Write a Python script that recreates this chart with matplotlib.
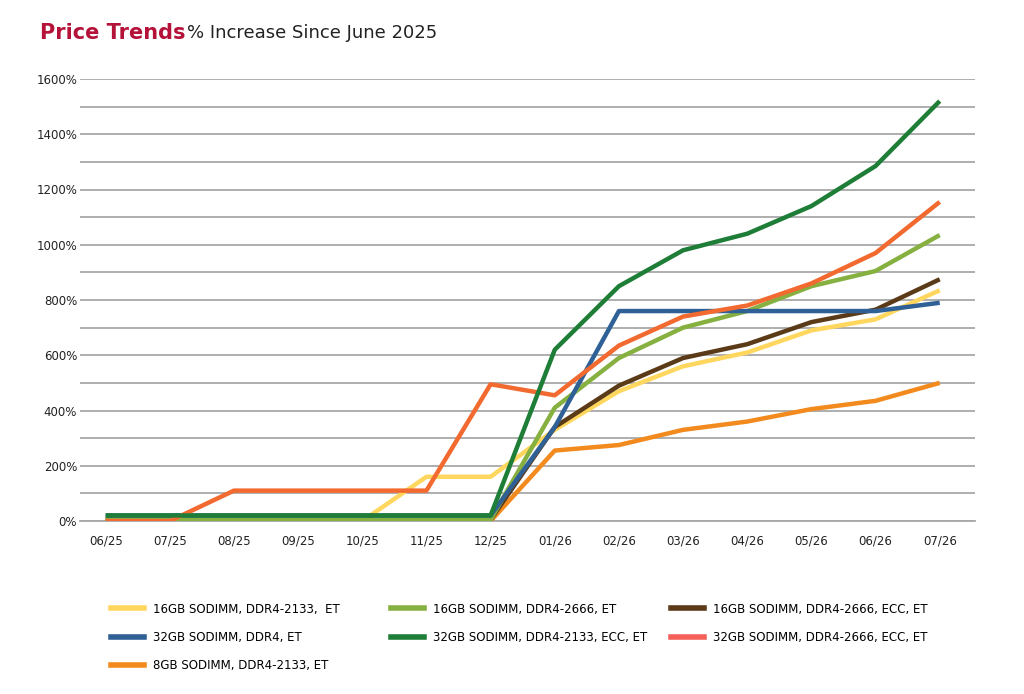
import matplotlib
matplotlib.use("Agg")
import matplotlib.pyplot as plt

months = ["06/25","07/25","08/25","09/25","10/25","11/25","12/25","01/26","02/26","03/26","04/26","05/26","06/26","07/26"]
s16_2133 = [0,0,0,0,0,160,160,330,470,560,610,690,730,835]
s16_2666 = [5,5,5,5,5,5,5,410,590,700,760,850,905,1035]
s16_2666ecc = [5,5,5,5,5,5,5,340,490,590,640,720,765,875]
s32_ddr4 = [20,20,20,20,20,20,20,340,760,760,760,760,760,790]
s32_2133ecc = [20,20,20,20,20,20,20,620,850,980,1040,1140,1285,1520]
s32_2666ecc = [0,0,110,110,110,110,495,455,635,740,780,860,970,1155]
s8_2133 = [0,0,0,0,0,0,0,255,275,330,360,405,435,500]

series = [
    ("16GB SODIMM, DDR4-2133,  ET", s16_2133, "#FFD75E", "#FFD75E", 4, 0),
    ("32GB SODIMM, DDR4, ET", s32_ddr4, "#2F6096", "#2F6096", 7, 0),
    ("8GB SODIMM, DDR4-2133, ET", s8_2133, "#F28A1E", "#F28A1E", 3, 0),
    ("16GB SODIMM, DDR4-2666, ET", s16_2666, "#86B040", "#86B040", 6, 1),
    ("32GB SODIMM, DDR4-2133, ECC, ET", s32_2133ecc, "#1E7D36", "#1E7D36", 9, 1),
    ("16GB SODIMM, DDR4-2666, ECC, ET", s16_2666ecc, "#5B3A18", "#5B3A18", 5, 2),
    ("32GB SODIMM, DDR4-2666, ECC, ET", s32_2666ecc, "#F26A30", "#F4605A", 8, 2),
]

fig = plt.figure(figsize=(10.24,6.94), dpi=100)
ax = fig.add_axes([80/1024, 1-521/694, 895/1024, (521-79)/694])
x = list(range(len(months)))
cols = [[], [], []]
for name, vals, c, lc, z, col in series:
    ax.plot(x, vals, color=c, lw=3.2, zorder=z, solid_capstyle="butt")
    h, = ax.plot([], [], color=lc, lw=4)
    cols[col].append((h, name))
ax.set_xlim(-0.4, 13.55)
ax.set_ylim(0, 1600)
ax.set_yticks(range(0,1601,100))
ax.set_yticklabels([f"{v}%" if v % 200 == 0 else "" for v in range(0,1601,100)])
ax.set_xticks(x)
ax.set_xticklabels(months)
ax.grid(axis="y", color="#A8A8A8", lw=1.3)
ax.set_axisbelow(True)
for s in ["top","right","left"]:
    ax.spines[s].set_visible(False)
ax.spines["bottom"].set_color("#A8A8A8")
ax.spines["bottom"].set_linewidth(1.3)
ax.tick_params(length=0, labelsize=8.5, colors="#222222")
ax.tick_params(axis="x", pad=10)
ax.tick_params(axis="y", pad=2)

fig.text(40/1024, 1-33/694, "Price Trends", color="#B5123A", fontsize=15, fontweight="bold", va="center")
fig.text(187/1024, 1-33/694, "% Increase Since June 2025", color="#222222", fontsize=13, va="center")

for i, xs in enumerate([100, 380, 660]):
    items = cols[i]
    fig.legend([h for h,_ in items], [n for _,n in items], ncol=1, frameon=False,
               loc="upper left", bbox_to_anchor=(xs/1024, 1-592/694), fontsize=8.5,
               handlelength=2.8, labelspacing=1.3)
fig.savefig("out.png", dpi=100)
